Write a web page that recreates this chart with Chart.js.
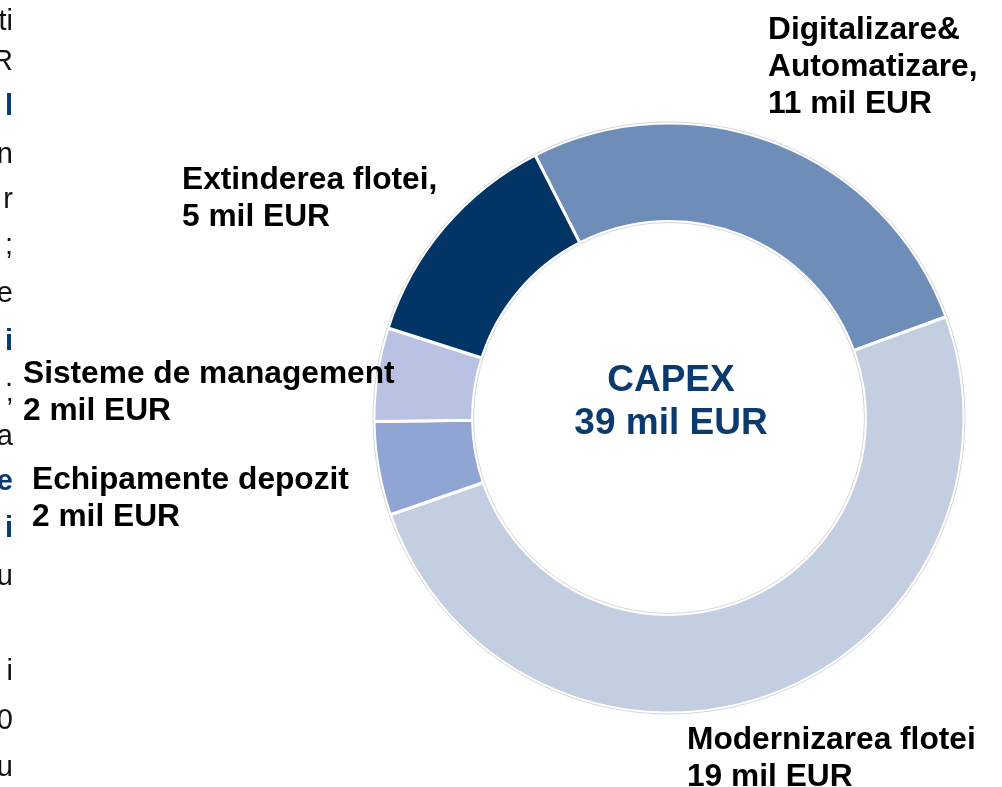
<!DOCTYPE html>
<html>
<head>
<meta charset="utf-8">
<script src="https://cdn.jsdelivr.net/npm/chart.js@4.4.0/dist/chart.umd.min.js"></script>
<style>
    html, body { margin: 0; padding: 0; background: #ffffff; }
    body { width: 1002px; height: 787px; position: relative; overflow: hidden; font-family: "Liberation Sans", Arial, sans-serif; }
    #capexChart { position: absolute; left: 0; top: 0; }
    .label { position: absolute; font-weight: bold; font-size: 31.7px; line-height: 37px; color: #000000; white-space: nowrap; }
    .center { position: absolute; left: 471px; width: 400px; text-align: center; font-weight: bold; font-size: 37px; line-height: 43px; color: #0b3a6e; }
    .frag { position: absolute; right: calc(100% - 13px); font-size: 29px; line-height: 29px; color: #111111; white-space: nowrap; }
    .frag.blue { color: #0b3a6e; font-weight: bold; }
</style>
</head>
<body>
<canvas id="capexChart" width="1002" height="787"></canvas>
<div id="labels"></div>

<script>
// Date CAPEX (mil EUR)
const categorii = ['Digitalizare& Automatizare', 'Modernizarea flotei', 'Echipamente depozit', 'Sisteme de management', 'Extinderea flotei'];
const valori = [10.5, 19.6, 2.0, 2.0, 4.9];
const culori = ['#6e8eb9', '#c3cee1', '#90a5d3', '#b9c2e2', '#023566'];

// Etichete afisate langa inel
const etichete = [
    ['Digitalizare&', 'Automatizare,', '11 mil EUR'],
    ['Modernizarea flotei', '19 mil EUR'],
    ['Echipamente depozit', '2 mil EUR'],
    ['Sisteme de management', '2 mil EUR'],
    ['Extinderea flotei,', '5 mil EUR']
];
const pozitiiEtichete = [[768, 10], [687, 720], [32, 460], [23, 354], [182, 160]];
const textCentru = ['CAPEX', '39 mil EUR'];

// fragmente de text taiate la marginea stanga a slide-ului
const fragmente = [
    ['ti', 30, false], ['R', 70, false], ['l', 115, true], ['n', 163, false], ['r', 208, false],
    [';', 254, false], ['e', 302, false], ['i', 350, true], ['.', 386, false], ['\u2019', 418, false],
    ['a', 445, false], ['e', 490, true], ['i', 537, true], ['u', 585, false],
    ['i', 680, false], ['0', 729, false], ['u', 776, false]
];

const labelsDiv = document.getElementById('labels');
etichete.forEach((linii, i) => {
    const div = document.createElement('div');
    div.className = 'label';
    div.style.left = pozitiiEtichete[i][0] + 'px';
    div.style.top = pozitiiEtichete[i][1] + 'px';
    div.innerHTML = linii.join('<br>');
    labelsDiv.appendChild(div);
});

const centru = document.createElement('div');
centru.className = 'center';
centru.style.top = '357px';
centru.innerHTML = textCentru.join('<br>');
labelsDiv.appendChild(centru);

fragmente.forEach(f => {
    const span = document.createElement('div');
    span.className = f[2] ? 'frag blue' : 'frag';
    span.style.top = (f[1] - 24) + 'px';
    span.textContent = f[0];
    labelsDiv.appendChild(span);
});

// contur gri subtire pe marginile inelului
const conturInel = {
    id: 'conturInel',
    afterDatasetsDraw(chart) {
        const arc = chart.getDatasetMeta(0).data[0];
        if (!arc) return;
        const ctx = chart.ctx;
        ctx.save();
        ctx.strokeStyle = '#d6d6d6';
        ctx.lineWidth = 1;
        ctx.beginPath();
        ctx.arc(arc.x, arc.y, arc.outerRadius + 1, 0, Math.PI * 2);
        ctx.stroke();
        ctx.beginPath();
        ctx.arc(arc.x, arc.y, arc.innerRadius - 1, 0, Math.PI * 2);
        ctx.stroke();
        ctx.restore();
    }
};

new Chart(document.getElementById('capexChart').getContext('2d'), {
    type: 'doughnut',
    data: {
        labels: categorii,
        datasets: [{
            data: valori,
            backgroundColor: culori,
            borderColor: '#ffffff',
            borderWidth: 3
        }]
    },
    options: {
        responsive: false,
        animation: false,
        rotation: -27,
        radius: 295,
        cutout: '66.6%',
        layout: { padding: { left: 336, right: 0, top: 49, bottom: 0 } },
        plugins: {
            legend: { display: false },
            tooltip: { enabled: false }
        }
    },
    plugins: [conturInel]
});
</script>
</body>
</html>
